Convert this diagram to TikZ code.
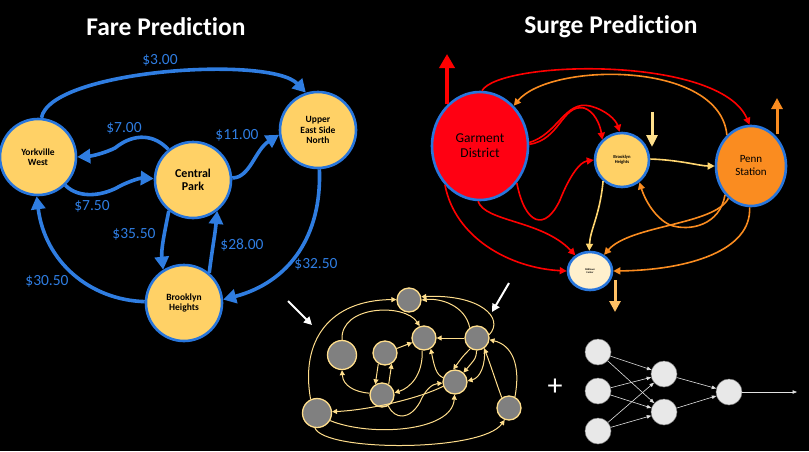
\documentclass[tikz,border=0pt]{standalone}
\usepackage{fontspec}
\setmainfont{Carlito}
\usetikzlibrary{arrows.meta,shapes.geometric}
\definecolor{edgeblue}{RGB}{47,125,225}
\definecolor{nodeblue}{RGB}{40,118,220}
\definecolor{fareyellow}{RGB}{255,209,102}
\definecolor{gred}{RGB}{255,0,18}
\definecolor{pennorange}{RGB}{250,140,32}
\definecolor{midcream}{RGB}{255,240,205}
\definecolor{syellow}{RGB}{255,214,112}
\definecolor{byellow}{RGB}{255,222,140}
\definecolor{bgray}{RGB}{128,128,128}
\definecolor{nngray}{RGB}{232,232,232}
\definecolor{nnline}{RGB}{225,225,225}
\definecolor{downyellow}{RGB}{255,224,140}
\definecolor{downorange}{RGB}{255,192,100}
\tikzset{
  fare/.style={circle, draw=nodeblue, line width=2.6pt, fill=fareyellow, minimum size=76pt, inner sep=0pt, align=center, font=\fontsize{9.5}{10.5}\selectfont\bfseries},
  fedge/.style={draw=edgeblue, line width=3.6pt, -{Triangle[length=13pt,width=14pt]}},
  flabel/.style={text=edgeblue, font=\fontsize{15.5}{15.5}\selectfont},
  surge/.style={ellipse, draw=nodeblue, line width=2.6pt, inner sep=0pt, align=center},
  redge/.style={draw=red, line width=1.6pt, -{Triangle[length=7pt,width=7pt]}},
  oedge/.style={draw=pennorange, line width=1.6pt, -{Triangle[length=7pt,width=7pt]}},
  yedge/.style={draw=syellow, line width=1.6pt, -{Triangle[length=7pt,width=7pt]}},
  bnode/.style={circle, draw=byellow, line width=1.3pt, fill=bgray, minimum size=24pt, inner sep=0pt},
  bedge/.style={draw=byellow, line width=1pt, -{Triangle[length=5pt,width=5pt]}},
  nnode/.style={circle, fill=nngray, draw=gray, line width=0.5pt, minimum size=26pt, inner sep=0pt},
  nnedge/.style={draw=nnline, line width=0.6pt, -{Triangle[length=4.5pt,width=3.5pt]}},
  title/.style={text=white, font=\fontsize{25.5}{28}\selectfont\bfseries},
}
\begin{document}
\begin{tikzpicture}[x=1pt,y=-1pt]
\fill[black] (0,0) rectangle (809,451);
\useasboundingbox (0,0) rectangle (809,451);

% titles
\node[title] (t1) at (166,27) {Fare Predict\kern0pt ion};
\node[title] (t2) at (611,27) {Surge Predict\kern0pt ion};

% ---------------- Fare graph
\node[fare] (Y) at (38,157) {Yorkville\\West};
\node[fare, font=\fontsize{12}{13.5}\selectfont\bfseries] (CP) at (193,180) {Central\\Park};
\node[fare] (U) at (318,130) {Upper\\East Side\\North};
\node[fare] (B) at (184,303) {Brooklyn\\Heights};

\draw[fedge] (Y.85) .. controls (50,70) and (270,55) .. (U.108);
\draw[fedge] (CP.129) .. controls (155,135) and (135,132) .. (115,148) .. controls (105,153) and (92,156) .. (Y.0);
\draw[fedge] (Y.-46) .. controls (80,200) and (105,195) .. (120,186) .. controls (130,181) and (140,178) .. (CP.178);
\draw[fedge] (CP.3) .. controls (250,178) and (255,150) .. (U.187);
\draw[fedge] (CP.232) .. controls (164,235) and (161,250) .. (B.122);
\draw[fedge] (B.50) .. controls (212,250) and (215,235) .. (CP.-52);
\draw[fedge] (U.272) .. controls (322,235) and (290,282) .. (B.5);
\draw[fedge] (B.178) .. controls (90,300) and (45,262) .. (Y.268);

\node[flabel] (l1) at (160,60) {\$3.00};
\node[flabel] (l2) at (124,128) {\$7.00};
\node[flabel] (l3) at (92,206) {\$7.50};
\node[flabel] (l4) at (237,135) {\$11.00};
\node[flabel] (l5) at (134,234) {\$35.50};
\node[flabel] (l6) at (242,245) {\$28.00};
\node[flabel] (l7) at (316,264) {\$32.50};
\node[flabel] (l8) at (47,281) {\$30.50};

% ---------------- Surge graph
\node[surge, fill=gred, minimum width=96pt, minimum height=108pt, font=\fontsize{13.5}{15}\selectfont] (G) at (480,146) {Garment\\District};
\node[surge, fill=fareyellow, minimum width=54pt, minimum height=54pt, font=\fontsize{4.6}{5.5}\selectfont\bfseries] (BH) at (622,160) {Brooklyn\\Heights};
\node[surge, fill=pennorange, minimum width=70pt, minimum height=80pt, font=\fontsize{11}{13}\selectfont] (P) at (751,166) {Penn\\Station};
\node[surge, fill=midcream, minimum width=44pt, minimum height=38pt, font=\fontsize{2.6}{3.4}\selectfont\bfseries] (M) at (590,271) {Midtown\\Center};

\draw[redge] (G.88) .. controls (500,60) and (720,55) .. (P.92);
\draw[oedge] (P.128) .. controls (720,60) and (550,62) .. (G.50);
\draw[redge] (G.2) .. controls (560,140) and (562,104) .. (584,108) .. controls (594,111) and (600,124) .. (BH.134);
\draw[redge] (G.4) .. controls (558,134) and (565,100) .. (590,106) .. controls (606,110) and (616,120) .. (BH.95);
\draw[redge] (G.-45) .. controls (525,225) and (545,232) .. (560,200) .. controls (570,175) and (580,162) .. (BH.180);
\draw[redge] (G.268) .. controls (485,222) and (542,220) .. (M.133);
\draw[redge] (G.228) .. controls (455,238) and (510,268) .. (M.180);
\draw[yedge] (BH.2) .. controls (680,160) and (700,166) .. (P.180);
\draw[yedge] (BH.228) .. controls (600,215) and (590,230) .. (M.92);
\draw[oedge] (P.235) .. controls (715,225) and (630,225) .. (M.49);
\draw[oedge] (P.228) .. controls (720,225) and (690,232) .. (670,225) .. controls (655,218) and (645,200) .. (BH.-52);
\draw[oedge] (P.268) .. controls (752,250) and (690,270) .. (M.0);

% trend arrows
\coordinate (ra1) at (447,104); \coordinate (ra2) at (447,54);
\draw[red, line width=4pt, -{Triangle[length=14pt,width=15pt]}] (ra1) -- (ra2);
\coordinate (oa1) at (777,134); \coordinate (oa2) at (777,98);
\draw[pennorange, line width=3pt, -{Triangle[length=11pt,width=11pt]}] (oa1) -- (oa2);
\coordinate (ya1) at (652,112); \coordinate (ya2) at (652,147);
\draw[downyellow, line width=3pt, -{Triangle[length=12pt,width=11pt]}] (ya1) -- (ya2);
\coordinate (da1) at (615,280); \coordinate (da2) at (615,312);
\draw[downorange, line width=3pt, -{Triangle[length=11pt,width=11pt]}] (da1) -- (da2);

% ---------------- bottom graph
\node[bnode] (nA) at (409,300) {};
\node[bnode] (nB) at (424,338) {};
\node[bnode] (nC) at (477,338) {};
\node[bnode, minimum size=29pt] (nD) at (342,355) {};
\node[bnode] (nE) at (385,353) {};
\node[bnode] (nF) at (382,395) {};
\node[bnode] (nG) at (455,382) {};
\node[bnode, minimum size=29pt] (nH) at (317,413) {};
\node[bnode] (nI) at (509,408) {};

\draw[bedge] (nH.115) .. controls (300,340) and (330,300) .. (nA.178);
\draw[bedge] (nD.90) .. controls (340,305) and (405,303) .. (nB.110);
\draw[bedge] (nE) -- (nB);
\draw[bedge] (nE.238) -- (nF.122);
\draw[bedge] (nF.58) -- (nE.302);
\draw[bedge] (nF.172) .. controls (355,392) and (343,386) .. (nD.270);
\draw[bedge] (nB.262) .. controls (423,375) and (410,388) .. (nF.10);
\draw[bedge] (nG.160) .. controls (436,375) and (434,365) .. (nB.-58);
\draw[bedge] (nC) -- (nB);
\draw[bedge] (nC.125) .. controls (465,305) and (440,298) .. (nA.0);
\draw[bedge] (nC.15) .. controls (505,318) and (480,294) .. (nA.15);
\draw[bedge] (nC.238) .. controls (463,356) .. (nG.98);
\draw[bedge] (nC.268) .. controls (476,358) .. (nG.48);
\draw[bedge] (nC.305) .. controls (486,365) and (480,378) .. (nG.5);
\draw[bedge] (nI.125) .. controls (496,382) and (491,366) .. (nC.-55);
\draw[bedge] (nI.62) .. controls (521,365) and (512,345) .. (nC.-8);
\draw[bedge] (nG.200) .. controls (420,398) and (370,410) .. (nH.5);
\draw[bedge] (nF.300) .. controls (395,420) and (410,420) .. (420,402) .. controls (425,390) and (432,384) .. (nG.185);
\draw[bedge] (nH.-30) .. controls (370,437) and (452,432) .. (nG.268);
\draw[bedge] (nH.262) .. controls (325,452) and (482,452) .. (nI.250);

% white pointer arrows
\coordinate (wa1) at (288,301); \coordinate (wa2) at (312,325);
\draw[white, line width=2pt, -{Triangle[length=8pt,width=8pt]}] (wa1) -- (wa2);
\coordinate (wb1) at (509,283); \coordinate (wb2) at (492,312);
\draw[white, line width=2pt, -{Triangle[length=8pt,width=8pt]}] (wb1) -- (wb2);

% ---------------- neural net
\node[text=white, font=\fontsize{30}{30}\selectfont] (plus) at (555,387) {+};
\node[nnode] (i1) at (598,352) {};
\node[nnode] (i2) at (598,391) {};
\node[nnode] (i3) at (598,431) {};
\node[nnode] (h1) at (664,374) {};
\node[nnode] (h2) at (664,412) {};
\node[nnode] (o1) at (729,392) {};
\coordinate (oend) at (797,392);
\foreach \i in {i1,i2,i3}{
  \foreach \h in {h1,h2}{
    \draw[nnedge] (\i) -- (\h);
  }
}
\draw[nnedge] (h1) -- (o1);
\draw[nnedge] (h2) -- (o1);
\draw[nnedge] (o1) -- (oend);
\end{tikzpicture}
\end{document}
